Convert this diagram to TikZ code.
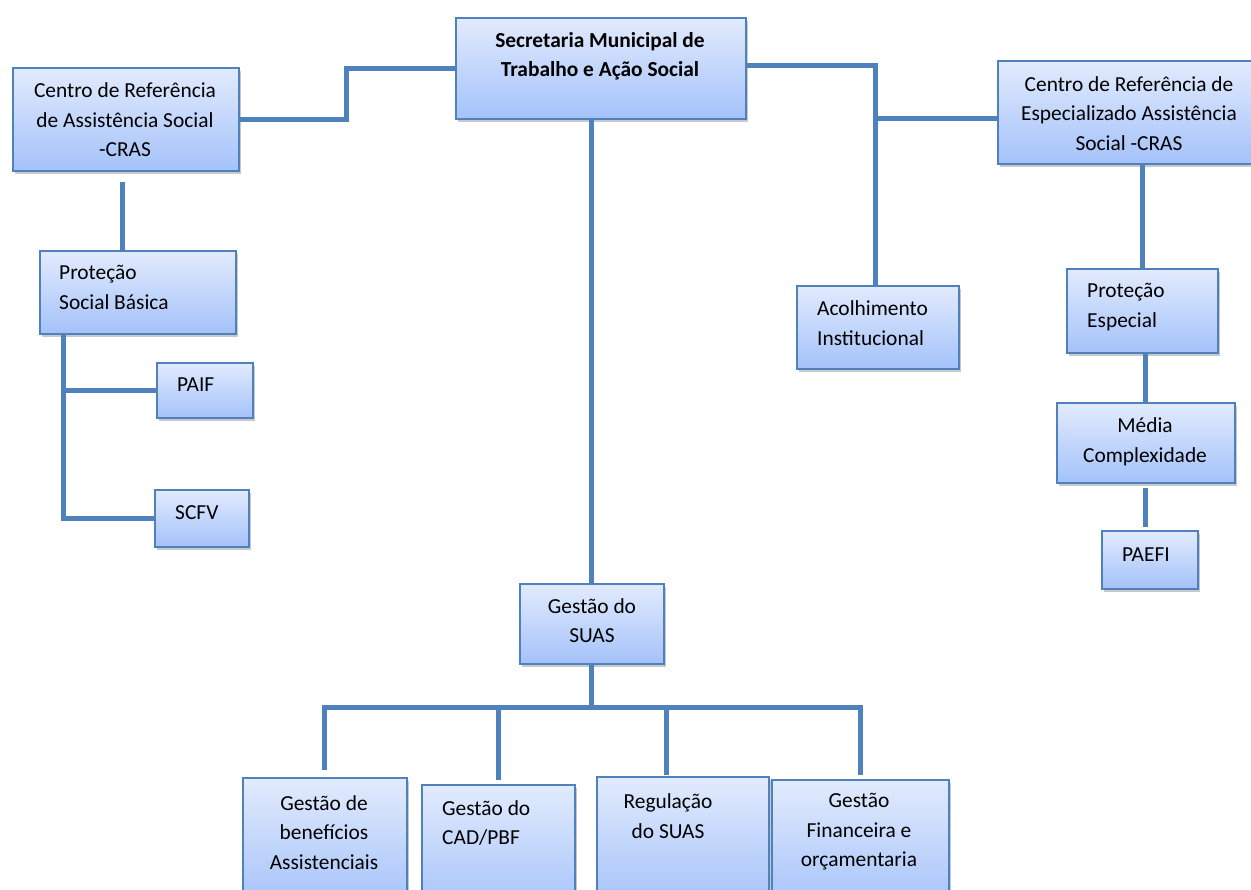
\documentclass[tikz,border=0pt]{standalone}
\usepackage{fontspec}
\setmainfont{Carlito}
\usetikzlibrary{shadows}

\definecolor{boxtop}{HTML}{E2EBFD}
\definecolor{boxbot}{HTML}{A4C2FA}
\definecolor{boxline}{HTML}{4F81BD}
\definecolor{linkblue}{HTML}{4F81BD}

\tikzset{
  orgbox/.style={draw=boxline, line width=1.6pt, top color=boxtop, bottom color=boxbot,
    inner sep=0pt, anchor=north west,
    drop shadow={shadow xshift=2pt, shadow yshift=-3pt, opacity=0.3, fill=black!70}},
  txt/.style={font=\fontsize{21.4}{29.5}\selectfont, inner sep=0pt},
  link/.style={draw=linkblue, line width=5pt}
}

\begin{document}
\begin{tikzpicture}[x=1pt, y=-1pt]

  \useasboundingbox (0,0) rectangle (1251,890);

  % Boxes
  \node[orgbox, minimum width=290, minimum height=101] (sec)   at (455,17)  {};
  \node[orgbox, minimum width=226, minimum height=103] (cras)  at (12,67)   {};
  \node[orgbox, minimum width=262, minimum height=103] (creas) at (997,60)  {};
  \node[orgbox, minimum width=196, minimum height=83]  (psb)   at (39,250)  {};
  \node[orgbox, minimum width=96,  minimum height=55]  (paif)  at (156,362) {};
  \node[orgbox, minimum width=94,  minimum height=57]  (scfv)  at (154,489) {};
  \node[orgbox, minimum width=162, minimum height=83]  (acol)  at (796,285) {};
  \node[orgbox, minimum width=151, minimum height=84]  (pe)    at (1066,268) {};
  \node[orgbox, minimum width=178, minimum height=80]  (media) at (1056,402) {};
  \node[orgbox, minimum width=96,  minimum height=58]  (paefi) at (1101,530) {};
  \node[orgbox, minimum width=144, minimum height=80]  (suas)  at (519,583) {};
  \node[orgbox, minimum width=164, minimum height=130] (gb)    at (242,777) {};
  \node[orgbox, minimum width=153, minimum height=130] (gcad)  at (421,784) {};
  \node[orgbox, minimum width=172, minimum height=130] (reg)   at (596,776) {};
  \node[orgbox, minimum width=177, minimum height=130] (gf)    at (771,779) {};

  % Texts
  \node[txt, font=\fontsize{21.4}{29.5}\selectfont\bfseries, align=center] (sec-t) at (600,56.5)
    {Secretaria Municipal de\\Trabalho e Ação Social};
  \node[txt, align=center] (cras-t) at (125,120)
    {Centro de Referência\\de Assistência Social\\-CRAS};
  \node[txt, align=center] (creas-t) at (1129,113.5)
    {Centro de Referência de\\Especializado Assistência\\Social -CRAS};
  \node[txt, align=left, anchor=west] (psb-t) at (59,287.5) {Proteção\\Social Básica};
  \node[txt, anchor=west] (paif-t) at (177,385) {PAIF};
  \node[txt, anchor=west] (scfv-t) at (175,513) {SCFV};
  \node[txt, align=left, anchor=west] (acol-t) at (817,323) {Acolhimento\\Institucional};
  \node[txt, align=left, anchor=west] (pe-t) at (1087,307) {Proteção\\Especial};
  \node[txt, align=center] (media-t) at (1145,442) {Média\\Complexidade};
  \node[txt] (paefi-t) at (1146,555) {PAEFI};
  \node[txt, align=center] (suas-t) at (592,620.5) {Gestão do\\SUAS};
  \node[txt, align=center] (gb-t) at (324,832.5) {Gestão de\\benefícios\\Assistenciais};
  \node[txt, align=left, anchor=west] (gcad-t) at (442,823) {Gestão do\\CAD/PBF};
  \node[txt, align=center] (reg-t) at (668,816) {Regulação\\do SUAS};
  \node[txt, align=center] (gf-t) at (859,832) {Gestão\\Financeira e\\orçamentaria};

  % Connectors, left side
  \draw[link] (cras.east) -- ++(107,0) |- (sec.west);
  \draw[link] ([xshift=-3pt,yshift=-10pt]cras.south) -- ([xshift=-3pt]cras.south |- psb.north);
  \draw[link] ([xshift=24pt]psb.south west) |- (scfv.west);
  \draw[link] ([xshift=24pt]psb.south west |- paif.west) -- (paif.west);

  % Connectors, right side
  \draw[link] ([yshift=3pt]sec.east) -- ++(129,0) coordinate (junc) -- (junc |- acol.north);
  \draw[link] ([yshift=-6pt]junc |- creas.west) -- ([yshift=-6pt]creas.west);
  \draw[link] (pe.north) -- (pe.north |- creas.south);
  \draw[link] (media.north) -- (media.north |- pe.south);
  \draw[link] ([yshift=-4pt]media.south) -- ([yshift=3pt]media.south |- paefi.north);

  % Gestão do SUAS
  \draw[link] (suas.north) -- (suas.north |- sec.south);
  \coordinate (bus) at (0,707);
  \draw[link] (suas.south) -- (suas.south |- bus);
  \draw[link] ([xshift=-2.5pt]gb.north |- bus) -- ([xshift=2.5pt]gf.north |- bus);
  \draw[link] ([yshift=7pt]gb.north) -- (gb.north |- bus);
  \draw[link] ([yshift=4pt]gcad.north) -- (gcad.north |- bus);
  \draw[link] ([xshift=-16pt,yshift=1pt]reg.north) -- ([xshift=-16pt]reg.north |- bus);
  \draw[link] ([yshift=4pt]gf.north) -- (gf.north |- bus);

\end{tikzpicture}
\end{document}
